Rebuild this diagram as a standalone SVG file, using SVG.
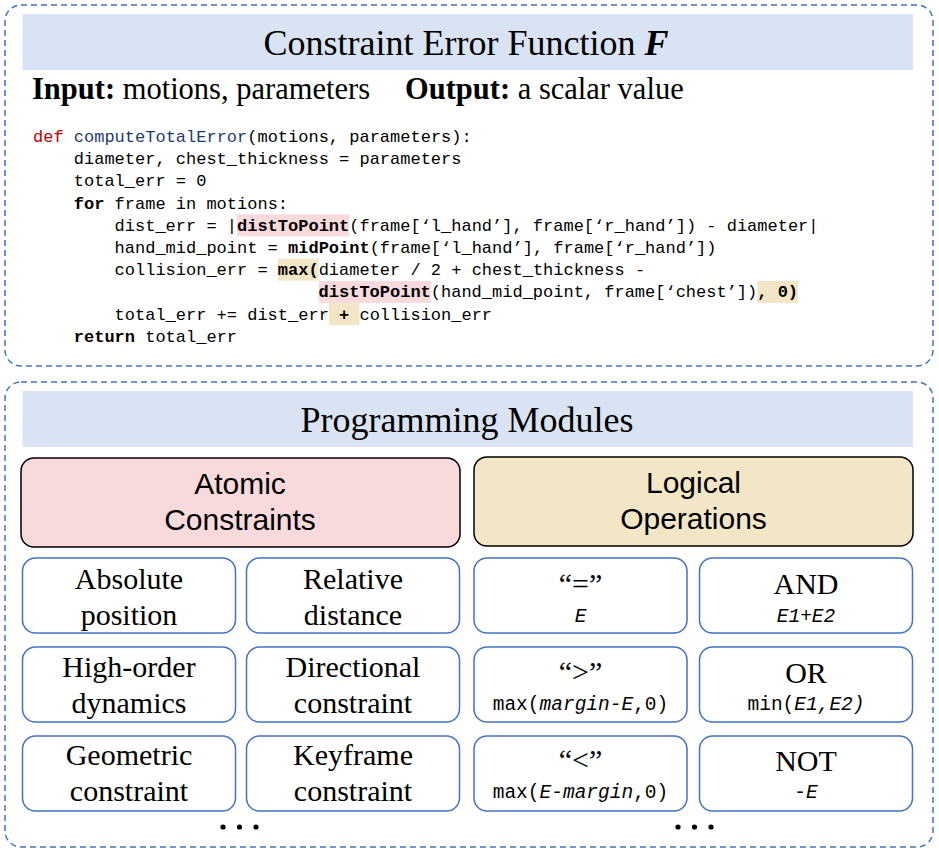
<svg xmlns="http://www.w3.org/2000/svg" width="939" height="852" viewBox="0 0 939 852">
<style>
.frame{fill:#ffffff;stroke:#4472C4;stroke-width:1.5;stroke-dasharray:6 4}
.band{fill:#DAE3F3}
.title{font-family:"Liberation Serif","Times New Roman",serif;font-size:36px;fill:#000;text-anchor:middle}
.io{font-family:"Liberation Serif","Times New Roman",serif;font-size:30.5px;fill:#000}
.code{font-family:"Liberation Mono","DejaVu Sans Mono",monospace;font-size:17px;fill:#000}
.b{font-weight:bold}
.hlp{fill:#F8D9DC}
.hlt{fill:#F3E6C7}
.cat{stroke:#000;stroke-width:1.5}
.catt{font-family:"Liberation Sans",Arial,sans-serif;font-size:30px;fill:#000;text-anchor:middle}
.mod{fill:#ffffff;stroke:#4472C4;stroke-width:1.5}
.modt{font-family:"Liberation Serif","Times New Roman",serif;font-size:30px;fill:#000;text-anchor:middle}
.modc{font-family:"Liberation Mono","DejaVu Sans Mono",monospace;font-size:19.5px;fill:#000;text-anchor:middle}
.i{font-style:italic}
</style>

<g id="error-function">
  <rect class="frame" x="5" y="5" width="928" height="361" rx="16"/>
  <rect class="band" x="22.5" y="14" width="890.5" height="56"/>
  <text class="title" x="466" y="55">Constraint Error Function <tspan font-weight="bold" font-style="italic">F</tspan></text>
  <text class="io" x="32" y="99"><tspan font-weight="bold">Input:</tspan> motions, parameters</text>
  <text class="io" x="405" y="99"><tspan font-weight="bold">Output:</tspan> a scalar value</text>
  <rect class="hlp" x="237" y="214.3" width="112.2" height="22"/>
  <rect class="hlt" x="277.8" y="258.7" width="40.8" height="22"/>
  <rect class="hlp" x="318.6" y="280.9" width="112.2" height="22"/>
  <rect class="hlt" x="757.2" y="280.9" width="40.8" height="22"/>
  <rect class="hlt" x="328.8" y="303.1" width="30.6" height="22"/>
  <text class="code" x="33" y="142"><tspan fill="#C00000">def</tspan> <tspan fill="#1F3A70">computeTotalError</tspan>(motions, parameters):</text>
  <text class="code" x="73.8" y="164.2">diameter, chest_thickness = parameters</text>
  <text class="code" x="73.8" y="186.4">total_err = 0</text>
  <text class="code" x="73.8" y="208.6"><tspan class="b">for</tspan> frame in motions:</text>
  <text class="code" x="114.6" y="230.8">dist_err = |<tspan class="b">distToPoint</tspan>(frame[‘l_hand’], frame[‘r_hand’]) - diameter|</text>
  <text class="code" x="114.6" y="253">hand_mid_point = <tspan class="b">midPoint</tspan>(frame[‘l_hand’], frame[‘r_hand’])</text>
  <text class="code" x="114.6" y="275.2">collision_err = <tspan class="b">max(</tspan>diameter / 2 + chest_thickness -</text>
  <text class="code" x="318.6" y="297.4"><tspan class="b">distToPoint</tspan>(hand_mid_point, frame[‘chest’])<tspan class="b">, 0)</tspan></text>
  <text class="code" x="114.6" y="319.6">total_err += dist_err <tspan class="b">+</tspan> collision_err</text>
  <text class="code" x="73.8" y="341.8"><tspan class="b">return</tspan> total_err</text>
</g>

<g id="programming-modules">
  <rect class="frame" x="5" y="382" width="928" height="465" rx="16"/>
  <rect class="band" x="22.5" y="391" width="890.5" height="56"/>
  <text class="title" x="467" y="432">Programming Modules</text>
</g>

<g id="atomic-constraints">
  <rect class="cat" x="21" y="458" width="439" height="89" rx="13" fill="#F8DADC"/>
  <text class="catt" x="240" y="494">Atomic</text>
  <text class="catt" x="240" y="530">Constraints</text>
</g>
<g id="logical-operations">
  <rect class="cat" x="474" y="457" width="439" height="89" rx="13" fill="#F3E6C6"/>
  <text class="catt" x="693.5" y="493">Logical</text>
  <text class="catt" x="693.5" y="529">Operations</text>
</g>

<g id="absolute-position">
  <rect class="mod" x="22.5" y="558" width="213" height="75" rx="13"/>
  <text class="modt" x="129" y="589">Absolute</text>
  <text class="modt" x="129" y="625">position</text>
</g>
<g id="relative-distance">
  <rect class="mod" x="246.5" y="558" width="213" height="75" rx="13"/>
  <text class="modt" x="353" y="589">Relative</text>
  <text class="modt" x="353" y="625">distance</text>
</g>
<g id="high-order-dynamics">
  <rect class="mod" x="22.5" y="647" width="213" height="75" rx="13"/>
  <text class="modt" x="129" y="677">High-order</text>
  <text class="modt" x="129" y="713">dynamics</text>
</g>
<g id="directional-constraint">
  <rect class="mod" x="246.5" y="647" width="213" height="75" rx="13"/>
  <text class="modt" x="353" y="677">Directional</text>
  <text class="modt" x="353" y="713">constraint</text>
</g>
<g id="geometric-constraint">
  <rect class="mod" x="22.5" y="736" width="213" height="75" rx="13"/>
  <text class="modt" x="129" y="765">Geometric</text>
  <text class="modt" x="129" y="801">constraint</text>
</g>
<g id="keyframe-constraint">
  <rect class="mod" x="246.5" y="736" width="213" height="75" rx="13"/>
  <text class="modt" x="353" y="765">Keyframe</text>
  <text class="modt" x="353" y="801">constraint</text>
</g>

<g id="op-equal">
  <rect class="mod" x="474" y="558" width="213" height="75" rx="13"/>
  <text class="modt" x="580.5" y="594">“=”</text>
  <text class="modc" x="580.5" y="622"><tspan class="i">E</tspan></text>
</g>
<g id="op-and">
  <rect class="mod" x="699.5" y="558" width="213" height="75" rx="13"/>
  <text class="modt" x="806" y="594">AND</text>
  <text class="modc" x="806" y="622"><tspan class="i">E1+E2</tspan></text>
</g>
<g id="op-greater">
  <rect class="mod" x="474" y="647" width="213" height="75" rx="13"/>
  <text class="modt" x="580.5" y="682">“&gt;”</text>
  <text class="modc" x="580.5" y="710">max(<tspan class="i">margin-E</tspan>,0)</text>
</g>
<g id="op-or">
  <rect class="mod" x="699.5" y="647" width="213" height="75" rx="13"/>
  <text class="modt" x="806" y="683">OR</text>
  <text class="modc" x="806" y="710">min(<tspan class="i">E1,E2)</tspan></text>
</g>
<g id="op-less">
  <rect class="mod" x="474" y="736" width="213" height="75" rx="13"/>
  <text class="modt" x="580.5" y="770">“&lt;”</text>
  <text class="modc" x="580.5" y="798">max(<tspan class="i">E-margin</tspan>,0)</text>
</g>
<g id="op-not">
  <rect class="mod" x="699.5" y="736" width="213" height="75" rx="13"/>
  <text class="modt" x="806" y="771">NOT</text>
  <text class="modc" x="806" y="798">-<tspan class="i">E</tspan></text>
</g>

<g id="ellipsis-left" fill="#000">
  <circle cx="223" cy="827" r="2.6"/>
  <circle cx="239.5" cy="827" r="2.6"/>
  <circle cx="256" cy="827" r="2.6"/>
</g>
<g id="ellipsis-right" fill="#000">
  <circle cx="678" cy="827" r="2.6"/>
  <circle cx="694.5" cy="827" r="2.6"/>
  <circle cx="711" cy="827" r="2.6"/>
</g>

<g id="connectors"/>
</svg>
